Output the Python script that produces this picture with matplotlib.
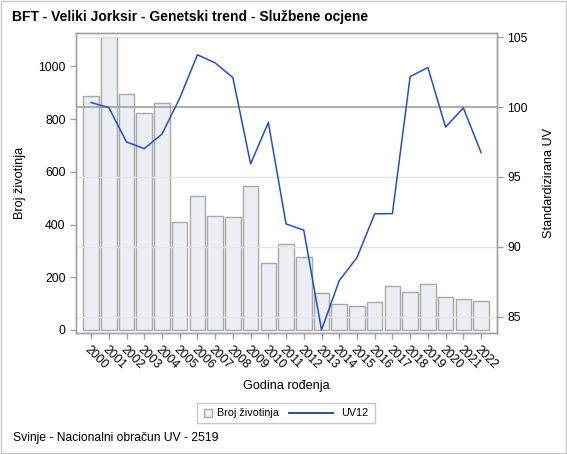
import matplotlib
matplotlib.use("Agg")
import matplotlib.pyplot as plt
from matplotlib.patches import Rectangle
from matplotlib.lines import Line2D

plt.rcParams['font.family'] = ['Liberation Sans', 'DejaVu Sans']

years = [str(y) for y in range(2000, 2023)]
counts = [887, 1111, 896, 822, 860, 411, 508, 431, 428, 546, 253, 325, 277,
          139, 99, 91, 108, 166, 143, 175, 124, 119, 110]
uv12 = [100.33, 99.97, 97.51, 97.03, 98.07, 100.64, 103.75, 103.17, 102.12,
        95.94, 98.9, 91.64, 91.19, 84.05, 87.58, 89.23, 92.36, 92.38, 102.19,
        102.84, 98.57, 99.95, 96.75]
left_ticks = [0, 200, 400, 600, 800, 1000]
right_ticks = [85, 90, 95, 100, 105]
legend_labels = ['Broj životinja', 'UV12']

W, H = 567, 454
fig = plt.figure(figsize=(W/100, H/100), dpi=100)


def fx(px):
    return px / W


def fy(py):
    return 1 - py / H


fig.patches.append(Rectangle((0.5/W, 1.5/H), 1-1.5/W, 1-2.5/H, transform=fig.transFigure,
                             fill=False, edgecolor='#c8c8c8', linewidth=1))

ax = fig.add_axes([fx(76), fy(333), (497-76)/W, (333-33)/H])
ax2 = ax.twinx()
ax.set_zorder(1)
ax2.set_zorder(2)
ax2.patch.set_visible(False)

x = list(range(len(years)))
gridc = '#e4e4e4'
ax2.set_ylim(83.83, 105.31)
ax2.set_yticks(right_ticks)
for t in right_ticks:
    if t != 100:
        ax2.axhline(t, color=gridc, linewidth=1, zorder=0)

bar_fc, bar_ec = '#ebeef3', '#a8a8a8'
line_c = '#2350c0'
ax.bar(x, counts, width=0.88, color=bar_fc, edgecolor=bar_ec, linewidth=1, zorder=2)
ax.set_xlim(-0.85, 22.9)
ax.set_ylim(-11.4, 1127)
ax.set_yticks(left_ticks)
ax.set_xticks(x)
ax.set_xticklabels(years, rotation=-45, ha='left', va='top', rotation_mode='anchor')

ax2.axhline(100, color='#a0a0a0', linewidth=1.2, zorder=1)
ax2.plot(x, uv12, color=line_c, linewidth=1.1, zorder=3)

for a in (ax, ax2):
    for s in a.spines.values():
        s.set_color('#a0a0a0')
        s.set_linewidth(1)
    a.tick_params(colors='#a0a0a0', labelcolor='black', labelsize=8.7, length=4, width=1)

ax.set_ylabel('Broj životinja', fontsize=9.1, labelpad=9)
ax2.set_ylabel('Standardizirana UV', fontsize=9.1, labelpad=11)
ax.set_xlabel('Godina rođenja', fontsize=9.1, labelpad=6)

fig.text(fx(12), fy(17), 'BFT - Veliki Jorksir - Genetski trend - Službene ocjene',
         fontsize=10, fontweight='bold', ha='left', va='center')
fig.text(fx(13), fy(438), 'Svinje - Nacionalni obračun UV - 2519', fontsize=8.7,
         ha='left', va='center')

# legend (drawn as a simple framed key below the plot)
ly = 413
fig.patches.append(Rectangle((fx(197), fy(422.7)), (375-197)/W, 19.4/H, transform=fig.transFigure,
                             fill=False, edgecolor='#c8c8c8', linewidth=1))
fig.patches.append(Rectangle((fx(204), fy(ly + 4)), 8/W, 8/H, transform=fig.transFigure,
                             facecolor=bar_fc, edgecolor=bar_ec, linewidth=1))
fig.text(fx(217), fy(ly), legend_labels[0], fontsize=7.75, ha='left', va='center')
fig.lines.append(Line2D([fx(289), fx(333)], [fy(ly), fy(ly)], transform=fig.transFigure,
                        color='#1c3f99', linewidth=1.3))
fig.text(fx(341), fy(ly), legend_labels[1], fontsize=7.75, ha='left', va='center')

fig.savefig('out.png', dpi=100)
